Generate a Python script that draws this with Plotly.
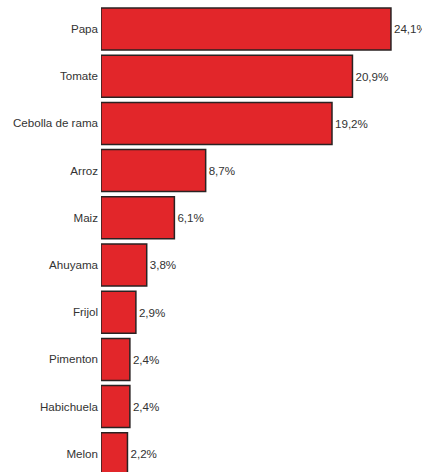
import plotly.graph_objects as go

categories = ["Papa", "Tomate", "Cebolla de rama", "Arroz", "Maiz", "Ahuyama",
              "Frijol", "Pimenton", "Habichuela", "Melon"]
values = [24.1, 20.9, 19.2, 8.7, 6.1, 3.8, 2.9, 2.4, 2.4, 2.2]
labels = [f"{v:.1f}%".replace(".", ",") for v in values]

FONT = "Liberation Sans, Arial, sans-serif"
FS = 11.6

fig = go.Figure(go.Bar(
    y=categories, x=values, orientation="h",
    text=labels, textposition="outside", cliponaxis=False,
    textfont=dict(family=FONT, size=FS, color="#333333"),
    marker=dict(color="#E2262A", line=dict(color="#2a2222", width=1.5)),
    width=0.89,
))

fig.update_layout(
    width=422, height=472,
    margin=dict(l=101, r=0, t=0, b=0, autoexpand=False),
    paper_bgcolor="white", plot_bgcolor="white",
    showlegend=False,
    font=dict(family=FONT, size=FS, color="#333333"),
)
fig.update_xaxes(range=[0, 26.68], visible=False, showgrid=False, zeroline=False,
                 automargin=False)
fig.update_yaxes(type="category", range=[9.386, -0.614], showgrid=False,
                 zeroline=False, ticks="", ticklabelstandoff=2, automargin=False,
                 tickfont=dict(family=FONT, size=FS, color="#333333"))

fig.write_html("out.html",
               config={"displayModeBar": False},
               post_script="document.body.style.margin='0px';document.body.style.overflow='hidden';")
